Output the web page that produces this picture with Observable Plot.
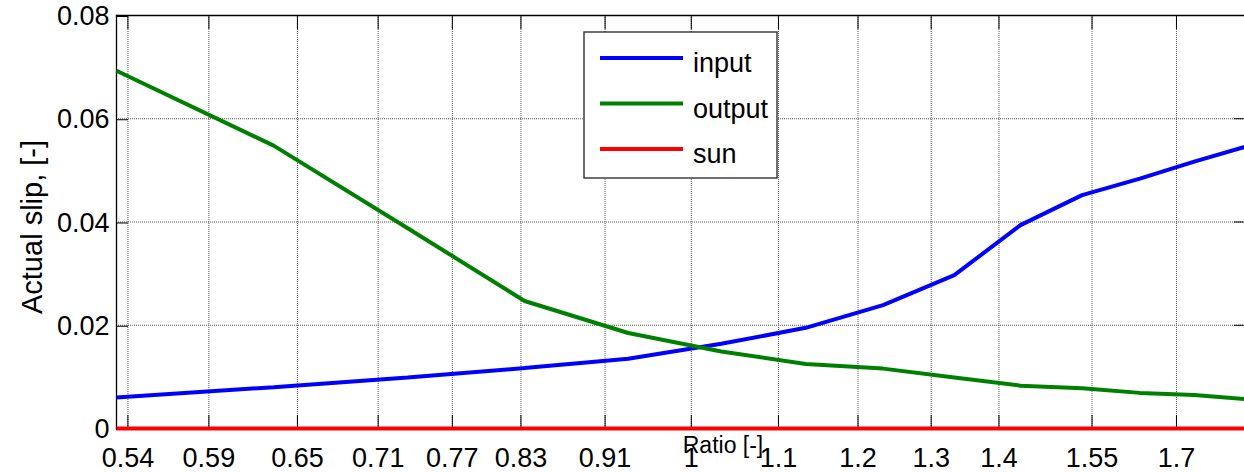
<!DOCTYPE html>
<html>
<head>
<meta charset="utf-8">
<script src="https://cdn.jsdelivr.net/npm/d3@7"></script>
<script src="https://cdn.jsdelivr.net/npm/@observablehq/plot@0.6"></script>
<style>
  html, body { margin: 0; padding: 0; background: #fff; overflow: hidden; }
  #chart { position: relative; width: 1244px; height: 472px; }
</style>
</head>
<body>
<div id="chart"></div>
<script>
// Gear ratio sweep and the slip measured on each shaft
const ratio = [0.5333, 0.6333, 0.7333, 0.8333, 0.9333, 1.0333, 1.1333, 1.2333, 1.3333, 1.4333, 1.5333, 1.6333, 1.7333, 1.8333];
const inputSlip = [0.0060, 0.0080, 0.0099, 0.0117, 0.0135, 0.0164, 0.0195, 0.0239, 0.0297, 0.0394, 0.0452, 0.0484, 0.0517, 0.0546];
const outputSlip = [0.0693, 0.0548, 0.0388, 0.0247, 0.0185, 0.0149, 0.0125, 0.0116, 0.0099, 0.0083, 0.0078, 0.0069, 0.0065, 0.0057];
const sunSlip = [0, 0, 0, 0, 0, 0, 0, 0, 0, 0, 0, 0, 0, 0];

const seriesNames = ["input", "output", "sun"];
const seriesColors = ["#0000ff", "#008000", "#ff0000"];

const xTicks = [0.54, 0.59, 0.65, 0.71, 0.77, 0.83, 0.91, 1, 1.1, 1.2, 1.3, 1.4, 1.55, 1.7];
const xTickLabels = ["0.54", "0.59", "0.65", "0.71", "0.77", "0.83", "0.91", "1", "1.1", "1.2", "1.3", "1.4", "1.55", "1.7"];
const yTicks = [0, 0.02, 0.04, 0.06, 0.08];
const yTickLabels = ["0", "0.02", "0.04", "0.06", "0.08"];

const xLabel = "Ratio [-]";
const yLabel = "Actual slip, [-]";

// Long-format table for the line mark
const seriesValues = [inputSlip, outputSlip, sunSlip];
const rows = seriesNames.flatMap((name, s) =>
  ratio.map((r, i) => ({ratio: r, slip: seriesValues[s][i], series: name}))
);

const xLabelOf = new Map(xTicks.map((t, i) => [t, xTickLabels[i]]));
const yLabelOf = new Map(yTicks.map((t, i) => [t, yTickLabels[i]]));

const font = "'Liberation Sans', Arial, Helvetica, sans-serif";
const gridStyle = {stroke: "#555", strokeOpacity: 1, strokeWidth: 1, strokeDasharray: "1 1"};

const plot = Plot.plot({
  width: 1244,
  height: 472,
  marginLeft: 116,
  marginRight: -1,
  marginTop: 15,
  marginBottom: 44,
  style: {fontFamily: font, color: "#000", background: "#fff", overflow: "visible"},
  x: {type: "log", domain: [ratio[0], ratio[ratio.length - 1]]},
  y: {domain: [yTicks[0], yTicks[yTicks.length - 1]]},
  color: {domain: seriesNames, range: seriesColors},
  marks: [
    Plot.gridX(xTicks, gridStyle),
    Plot.gridY(yTicks, gridStyle),
    // inward ticks: the label offset is tickSize + tickPadding
    Plot.axisX(xTicks, {anchor: "bottom", tickSize: -13, tickPadding: 32, fontSize: 27,
      tickFormat: (d) => xLabelOf.get(d), label: null, stroke: "#000"}),
    Plot.axisX(xTicks, {anchor: "top", tickSize: -13, tickFormat: () => "", label: null, stroke: "#000"}),
    Plot.axisY(yTicks, {anchor: "left", tickSize: -12, tickPadding: 19, fontSize: 27, dy: 1,
      tickFormat: (d) => yLabelOf.get(d), label: null, stroke: "#000"}),
    Plot.axisY(yTicks, {anchor: "right", tickSize: -12, tickFormat: () => "", label: null, stroke: "#000"}),
    Plot.frame({anchor: "left", stroke: "#000", strokeWidth: 1.3}),
    Plot.frame({anchor: "top", stroke: "#000", strokeWidth: 1.3}),
    Plot.frame({anchor: "bottom", stroke: "#000", strokeWidth: 1.3}),
    Plot.line(rows, {x: "ratio", y: "slip", stroke: "series", z: "series",
      strokeWidth: 4, strokeLinecap: "butt", strokeLinejoin: "miter"}),
    Plot.text([yLabel], {frameAnchor: "left", textAnchor: "middle", lineAnchor: "middle",
      rotate: -90, dx: -84, dy: 5, fontSize: 29, fill: "#000"}),
    Plot.text([xLabel], {frameAnchor: "bottom", textAnchor: "middle", lineAnchor: "middle",
      dx: 42, dy: 17, fontSize: 23, fill: "#000"})
  ]
});

document.getElementById("chart").appendChild(plot);

// Boxed legend in the upper middle of the axes
const svg = d3.select(plot);
const legend = svg.append("g").attr("transform", "translate(584,32)");
legend.append("rect")
  .attr("width", 193).attr("height", 146)
  .attr("fill", "#fff").attr("stroke", "#222").attr("stroke-width", 1.3);
seriesNames.forEach((name, i) => {
  const cy = 26 + i * 45.5;
  legend.append("line")
    .attr("x1", 16).attr("x2", 99).attr("y1", cy).attr("y2", cy)
    .attr("stroke", seriesColors[i]).attr("stroke-width", 4);
  legend.append("text")
    .attr("x", 109).attr("y", cy + 14)
    .attr("text-anchor", "start")
    .attr("font-size", 27).attr("font-family", font).attr("fill", "#000")
    .text(name);
});
</script>
</body>
</html>
